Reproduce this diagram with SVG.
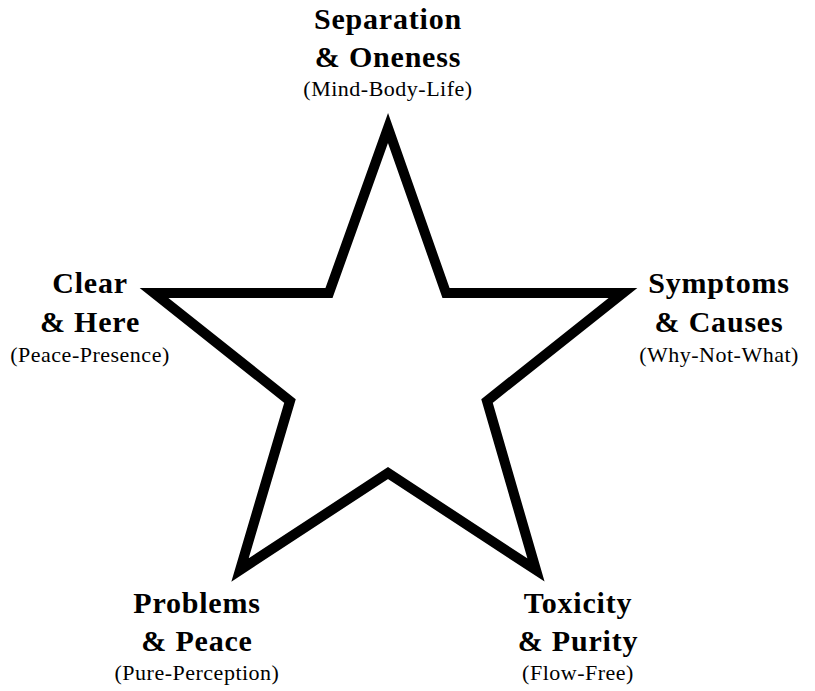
<svg xmlns="http://www.w3.org/2000/svg" width="815" height="691" viewBox="0 0 815 691">
<style>
.t{font-family:"Liberation Serif","Times New Roman",serif;font-weight:bold;font-size:30px;letter-spacing:0.8px;fill:#000;text-anchor:middle}
.s{font-family:"Liberation Serif","Times New Roman",serif;font-size:22px;letter-spacing:0.5px;fill:#000;text-anchor:middle}
.star{fill:#fff;stroke:#000;stroke-width:10;stroke-linejoin:miter;stroke-miterlimit:10}
</style>
<rect width="815" height="691" fill="#fff"/>
<g id="connectors"></g>
<g id="star">
<polygon class="star" points="388,128 446,293 623,293 487,401 536,570 388,473 240,570 290,401 154,293 329,293"/>
</g>
<g id="node-top">
<text class="t" x="388" y="29">Separation</text>
<text class="t" x="388" y="67">&amp; Oneness</text>
<text class="s" x="388" y="96">(Mind-Body-Life)</text>
</g>
<g id="node-left">
<text class="t" x="90" y="293">Clear</text>
<text class="t" x="90" y="332">&amp; Here</text>
<text class="s" x="90" y="362">(Peace-Presence)</text>
</g>
<g id="node-right">
<text class="t" x="719" y="293">Symptoms</text>
<text class="t" x="719" y="332">&amp; Causes</text>
<text class="s" x="719" y="362">(Why-Not-What)</text>
</g>
<g id="node-bottom-left">
<text class="t" x="197" y="613">Problems</text>
<text class="t" x="197" y="651">&amp; Peace</text>
<text class="s" x="197" y="680">(Pure-Perception)</text>
</g>
<g id="node-bottom-right">
<text class="t" x="578" y="613">Toxicity</text>
<text class="t" x="578" y="651">&amp; Purity</text>
<text class="s" x="578" y="680">(Flow-Free)</text>
</g>
</svg>
